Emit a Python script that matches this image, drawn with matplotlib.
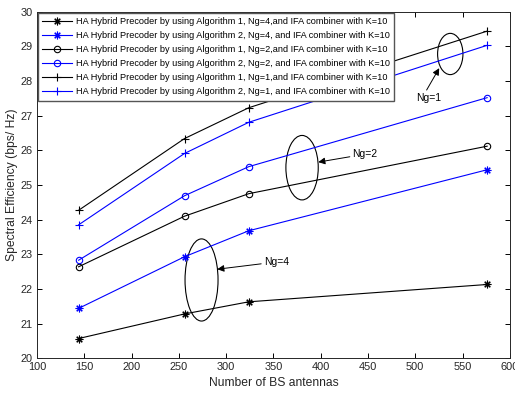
import matplotlib
matplotlib.use("Agg")
import matplotlib.pyplot as plt
from matplotlib.patches import Ellipse

plt.rcParams['font.family'] = ['Liberation Sans', 'DejaVu Sans']

antennas = [144, 256, 324, 576]

alg1_ng4 = [20.57, 21.28, 21.63, 22.13]
alg2_ng4 = [21.44, 22.93, 23.68, 25.44]
alg1_ng2 = [22.64, 24.10, 24.75, 26.12]
alg2_ng2 = [22.83, 24.69, 25.53, 27.52]
alg1_ng1 = [24.27, 26.34, 27.23, 29.44]
alg2_ng1 = [23.85, 25.91, 26.81, 29.03]

labels = [
    "HA Hybrid Precoder by using Algorithm 1, Ng=4,and IFA combiner with K=10",
    "HA Hybrid Precoder by using Algorithm 2, Ng=4, and IFA combiner with K=10",
    "HA Hybrid Precoder by using Algorithm 1, Ng=2,and IFA combiner with K=10",
    "HA Hybrid Precoder by using Algorithm 2, Ng=2, and IFA combiner with K=10",
    "HA Hybrid Precoder by using Algorithm 1, Ng=1,and IFA combiner with K=10",
    "HA Hybrid Precoder by using Algorithm 2, Ng=1, and IFA combiner with K=10",
]

xticks = [100, 150, 200, 250, 300, 350, 400, 450, 500, 550, 600]
yticks = list(range(20, 31))

fig = plt.figure(figsize=(5.15, 3.94), dpi=100)
ax = fig.add_axes([0.0718, 0.0906, 0.9182, 0.8797])

asterisk = (8, 2, 0)
series = [
    (alg1_ng4, 'black', asterisk),
    (alg2_ng4, 'blue', asterisk),
    (alg1_ng2, 'black', 'o'),
    (alg2_ng2, 'blue', 'o'),
    (alg1_ng1, 'black', '+'),
    (alg2_ng1, 'blue', '+'),
]
for (vals, col, mk), lab in zip(series, labels):
    ax.plot(antennas, vals, color=col, lw=0.8, marker=mk,
            ms=5.5 if mk != 'o' else 4.6, mew=0.8,
            mfc='none' if mk == 'o' else col, label=lab)

# group ellipses
for cx, cy, w, h in [(274, 22.26, 34.9, 2.37), (380.3, 25.50, 34.2, 1.86), (537, 28.78, 26.8, 1.19)]:
    ax.add_patch(Ellipse((cx, cy), w, h, fill=False, ec='black', lw=0.8))

arrow = dict(arrowstyle='-|>', color='black', lw=0.7, mutation_scale=10, shrinkA=0, shrinkB=0)
ax.annotate('Ng=4', xy=(290.6, 22.57), xytext=(340, 22.78), fontsize=7.5,
            ha='left', va='center', arrowprops=arrow)
ax.annotate('Ng=2', xy=(397.4, 25.66), xytext=(433.7, 25.89), fontsize=7.5,
            ha='left', va='center', arrowprops=arrow)
ax.annotate('', xy=(525.3, 28.37), xytext=(512, 27.74), arrowprops=arrow)
ax.text(514, 27.52, 'Ng=1', fontsize=7.5, ha='center', va='center')

ax.set_xlim(100, 600)
ax.set_ylim(20, 30)
ax.set_xticks(xticks)
ax.set_yticks(yticks)
ax.tick_params(direction='in', top=True, right=True, length=3.5, width=0.7,
               labelsize=7.9, labelcolor='#262626', pad=3)
for s in ax.spines.values():
    s.set_linewidth(0.7)
    s.set_color('#262626')

ax.set_xlabel('Number of BS antennas', fontsize=8.7, color='#262626', labelpad=3)
ax.set_ylabel('Spectral Efficiency (bps/ Hz)', fontsize=8.7, color='#262626', labelpad=2)

leg = ax.legend(loc='upper left', fontsize=6.6, frameon=True, fancybox=False,
                edgecolor='#555555', framealpha=1, handlelength=3.3, handletextpad=0.4,
                borderpad=0.45, labelspacing=0.56, borderaxespad=0.1)
leg.get_frame().set_linewidth(1.0)

fig.savefig('out.png', dpi=100)
